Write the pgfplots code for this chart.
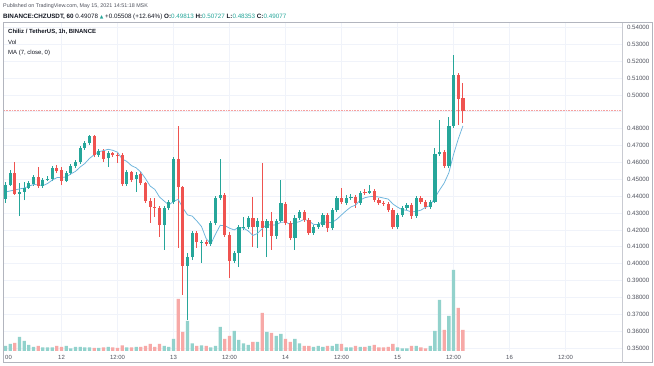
\documentclass[border=0pt]{standalone}
\usepackage{pgfplots}
\pgfplotsset{compat=1.18}
\usepackage{pgfplotstable}
\usepackage{fontspec}
\setmainfont{Liberation Sans}
\newfontfamily\symfont{DejaVu Sans}
\definecolor{up}{HTML}{26A69A}
\definecolor{dn}{HTML}{EF5350}
\definecolor{vup}{HTML}{92D2CC}
\definecolor{vdn}{HTML}{F7A9A7}
\definecolor{gridc}{HTML}{F0F3FA}
\definecolor{txt}{HTML}{131722}
\definecolor{lbl}{HTML}{50535E}
\definecolor{frm}{HTML}{B2B5BE}
\definecolor{mac}{HTML}{6CB4DC}

% k = hours since 11 May 12:00 (MSK); o h l c ; v = volume (relative)
\pgfplotstableread{
k o h l c v
0 .4383 .4484 .4360 .4466 5
1 .4466 .4555 .4460 .4537 7
3 .4413 .4478 .4282 .4425 14
4 .4425 .4484 .4377 .4448 10
5 .4448 .4490 .4443 .4478 6
6 .4472 .4526 .4460 .4514 4
8 .4460 .4508 .4448 .4496 3.5
9 .4496 .4520 .4490 .4502 3.5
10 .4502 .4579 .4490 .4567 3.5
13 .4490 .4549 .4484 .4537 5
14 .4537 .4591 .4526 .4579 2.5
15 .4579 .4614 .4567 .4603 4
16 .4603 .4698 .4591 .4686 4
17 .4686 .4727 .4674 .4715 3.5
18 .4715 .4763 .4703 .4757 3.5
20 .4644 .4680 .4632 .4668 3
22 .4626 .4668 .4573 .4656 4
26 .4472 .4555 .4460 .4543 3.5
28 .4502 .4543 .4425 .4526 4
34 .4229 .4342 .4081 .4330 5
35 .4330 .4377 .4318 .4365 4
36 .4365 .4632 .4354 .4620 12
39 .3986 .4063 .3666 .4039 30
40 .4039 .4193 .4021 .4182 7.5
42 .4122 .4140 .4004 .4128 5.5
44 .4116 .4253 .4105 .4241 3.5
45 .4241 .4401 .4229 .4389 5
46 .4389 .4620 .4377 .4407 24
49 .4016 .4075 .4004 .4063 20
50 .4063 .4229 .3980 .4217 11
51 .4211 .4277 .4199 .4217 7.5
52 .4217 .4282 .4205 .4271 6
54 .4217 .4271 .4093 .4253 9
56 .4211 .4265 .4039 .4253 19
58 .4164 .4265 .4146 .4253 15
59 .4253 .4496 .4241 .4360 17
62 .4152 .4288 .4081 .4271 12
63 .4271 .4318 .4259 .4306 7.5
66 .4182 .4229 .4170 .4217 4
67 .4217 .4247 .4205 .4235 5
68 .4229 .4300 .4217 .4288 4
70 .4211 .4330 .4199 .4318 5
71 .4318 .4401 .4306 .4389 7
73 .4360 .4407 .4348 .4389 3.5
74 .4389 .4413 .4377 .4395 3.5
76 .4360 .4431 .4348 .4419 4
78 .4419 .4466 .4413 .4431 5
84 .4217 .4300 .4205 .4288 3.5
85 .4288 .4342 .4277 .4330 2.5
86 .4330 .4360 .4318 .4348 2.5
88 .4282 .4401 .4271 .4389 5
91 .4336 .4377 .4324 .4365 5
92 .4365 .4686 .4360 .4650 20
93 .4650 .4852 .4638 .4662 51
95 .4579 .4870 .4567 .4816 35
96 .4816 .5237 .4804 .5119 81
}\upcandles

\pgfplotstableread{
k o h l c v
2 .4537 .4603 .4407 .4413 8
7 .4514 .4573 .4448 .4460 5
11 .4567 .4585 .4537 .4549 5
12 .4555 .4573 .4466 .4490 4
19 .4757 .4763 .4632 .4644 3
21 .4668 .4680 .4603 .4620 3.5
23 .4656 .4662 .4632 .4644 3.5
24 .4644 .4656 .4597 .4638 3
25 .4644 .4656 .4460 .4472 5.5
27 .4543 .4549 .4484 .4496 3.5
29 .4532 .4543 .4466 .4478 4
30 .4478 .4484 .4360 .4371 5
31 .4371 .4389 .4241 .4336 7
32 .4336 .4389 .4277 .4330 4
33 .4330 .4342 .4158 .4229 7
37 .4620 .4816 .4093 .4454 52
38 .4454 .4460 .3814 .3986 19
41 .4182 .4193 .4093 .4128 5
43 .4128 .4140 .4105 .4116 5
47 .4407 .4419 .4158 .4170 12
48 .4170 .4188 .3915 .4016 15
53 .4271 .4395 .4099 .4217 9
55 .4253 .4597 .4158 .4211 38
57 .4253 .4306 .4081 .4164 18
60 .4354 .4365 .4229 .4241 12
61 .4241 .4253 .4140 .4152 9
64 .4306 .4318 .4247 .4259 5
65 .4259 .4271 .4170 .4182 5
69 .4288 .4300 .4188 .4211 5
72 .4389 .4448 .4354 .4365 7
75 .4395 .4407 .4330 .4360 5
77 .4425 .4443 .4407 .4419 4
79 .4431 .4443 .4365 .4377 6
80 .4377 .4389 .4348 .4360 3.5
81 .4360 .4371 .4342 .4354 3.5
82 .4354 .4365 .4306 .4318 4
83 .4318 .4330 .4205 .4217 7
87 .4348 .4360 .4265 .4282 5
89 .4389 .4401 .4354 .4365 3.5
90 .4365 .4377 .4324 .4336 2.5
94 .4662 .4674 .4567 .4579 21
97 .5119 .5130 .4822 .4976 43
98 .49813 .50727 .48353 .49077 21
}\dncandles

\pgfplotstableread{
k ma
0 .4425
1 .4431
2 .4437
3 .4443
4 .4448
5 .4460
6 .4469
7 .4468
8 .4462
9 .4475
10 .4495
11 .4510
12 .4511
13 .4514
14 .4532
15 .4547
16 .4573
17 .4594
18 .4624
19 .4646
20 .4664
21 .4670
22 .4678
23 .4672
24 .4661
25 .4620
26 .4606
27 .4581
28 .4568
29 .4543
30 .4504
31 .4460
32 .4440
33 .4395
34 .4371
35 .4348
36 .4369
37 .4381
38 .4331
39 .4289
40 .4282
41 .4253
42 .4220
43 .4148
44 .4117
45 .4175
46 .4227
47 .4226
48 .4210
49 .4200
50 .4215
51 .4211
52 .4194
53 .4167
54 .4179
55 .4207
56 .4234
57 .4227
58 .4231
59 .4245
60 .4247
61 .4233
62 .4242
63 .4249
64 .4263
65 .4253
66 .4233
67 .4231
68 .4251
69 .4243
70 .4245
71 .4263
72 .4289
73 .4314
74 .4336
75 .4347
76 .4377
77 .4391
78 .4397
79 .4399
80 .4395
81 .4389
82 .4383
83 .4354
84 .4335
85 .4320
86 .4316
87 .4306
88 .4310
89 .4317
90 .4334
91 .4345
92 .4391
93 .4436
94 .4478
95 .4539
96 .4647
97 .4738
98 .4816
}\matable

\pgfplotsset{
  chartbase/.style={
    at={(3bp,15bp)}, anchor=south west,
    scale only axis, width=619bp, height=328bp,
    xmin=-0.536, xmax=132.1,
    axis line style={draw=none},
    tick style={draw=none},
    clip=true,
  },
  wick/.style={draw=none, mark=none, forget plot, error bars/.cd, y dir=plus, y explicit, error mark=none,
    error bar style={line width=0.75bp, draw=#1}},
  body/.style={draw=none, mark=none, forget plot, error bars/.cd, y dir=plus, y explicit, error mark=none,
    error bar style={line width=3.3bp, draw=#1}},
}

\begin{document}
\begin{tikzpicture}
\path[use as bounding box, fill=white] (0,0) rectangle (654bp,366bp);

% price axis: grid, ticks, labels
\begin{axis}[chartbase,
  ymin=0.34819, ymax=0.54270,
  xtick={12,24,36,48,60,72,84,96,108,120},
  xticklabels={12,12:00,13,12:00,14,12:00,15,12:00,16,12:00},
  ytick={0.35,0.36,0.37,0.38,0.39,0.40,0.41,0.42,0.43,0.44,0.45,0.46,0.47,0.48,0.49,0.50,0.51,0.52,0.53,0.54},
  yticklabels={0.35000,0.36000,0.37000,0.38000,0.39000,0.40000,0.41000,0.42000,0.43000,0.44000,0.45000,0.46000,0.47000,0.48000,,0.50000,0.51000,0.52000,0.53000,0.54000},
  yticklabel pos=right,
  grid=major, major grid style={draw=gridc, line width=0.8bp},
  xticklabel style={font=\fontsize{6}{7}\selectfont, text=lbl, anchor=center, yshift=-6.5bp},
  yticklabel style={font=\fontsize{6.2}{7}\selectfont, text=lbl, anchor=west, xshift=1.5bp},
]
\addplot[draw=none, forget plot] coordinates {(0,0.45)};
\end{axis}

% volume axis
\begin{axis}[chartbase, ymin=0, ymax=328, xtick=\empty, ytick=\empty]
\addplot[ybar, bar width=3.3bp, bar shift=0pt, fill=vup, draw=none] table[x=k, y=v] {\upcandles};
\addplot[ybar, bar width=3.3bp, bar shift=0pt, fill=vdn, draw=none] table[x=k, y=v] {\dncandles};
\end{axis}

% candles, MA, last price
\begin{axis}[chartbase, ymin=0.34819, ymax=0.54270, xtick=\empty, ytick=\empty]
\addplot[dn!55, densely dotted, line width=0.6bp] coordinates {(-1,0.49077) (140,0.49077)};
% wicks
\addplot[wick=up] table[x=k, y=l, y error expr=\thisrow{h}-\thisrow{l}] {\upcandles};
\addplot[wick=dn] table[x=k, y=l, y error expr=\thisrow{h}-\thisrow{l}] {\dncandles};
% MA
\addplot[mac, line width=0.75bp, mark=none] table[x=k, y=ma] {\matable};
% bodies
\addplot[body=up] table[x=k, y=o, y error expr=\thisrow{c}-\thisrow{o}] {\upcandles};
\addplot[body=dn] table[x=k, y=c, y error expr=\thisrow{o}-\thisrow{c}] {\dncandles};
% last price label
\node[fill=dn, text=white, font=\fontsize{6.2}{7}\selectfont, inner xsep=1.6bp, inner ysep=1.3bp,
  anchor=west, xshift=0.3bp] at (axis cs:132.1,0.49077) {0.49077};
\end{axis}

% frame and texts (pixel coordinates)
\begin{scope}[x=1bp, y=-1bp, shift={(0,366bp)}]
\draw[frm, line width=1bp] (3,23) rectangle (652,363);
\draw[frm!70, line width=0.6bp] (622,23) -- (622,363);
\node[anchor=west, inner sep=0, font=\fontsize{5.4}{6}\selectfont, text=lbl] at (3,6)
  {Published on TradingView.com, May 15, 2021 14:51:18 MSK};
\node[anchor=west, inner sep=0, font=\fontsize{6.3}{7}\selectfont, text=txt] at (3,16.5)
  {\textbf{BINANCE:CHZUSDT, 60} 0.49078 {\color{up}\symfont\fontsize{4.7}{5}\selectfont ▲} +0.05508 (+12.64\%)
   \textbf{O:}{\color{up}0.49813} \textbf{H:}{\color{up}0.50727} \textbf{L:}{\color{up}0.48353} \textbf{C:}{\color{up}0.49077}};
\node[anchor=west, inner sep=0, font=\fontsize{6}{7}\selectfont\bfseries, text=txt] at (8,32)
  {Chiliz / TetherUS, 1h, BINANCE};
\node[anchor=west, inner sep=0, font=\fontsize{6}{7}\selectfont, text=txt] at (8,42.5) {Vol};
\node[anchor=west, inner sep=0, font=\fontsize{6}{7}\selectfont, text=txt] at (8,53) {MA (7, close, 0)};
\node[anchor=west, inner sep=0, font=\fontsize{6}{7}\selectfont, text=lbl] at (5,357) {00};
\end{scope}
\end{tikzpicture}
\end{document}
